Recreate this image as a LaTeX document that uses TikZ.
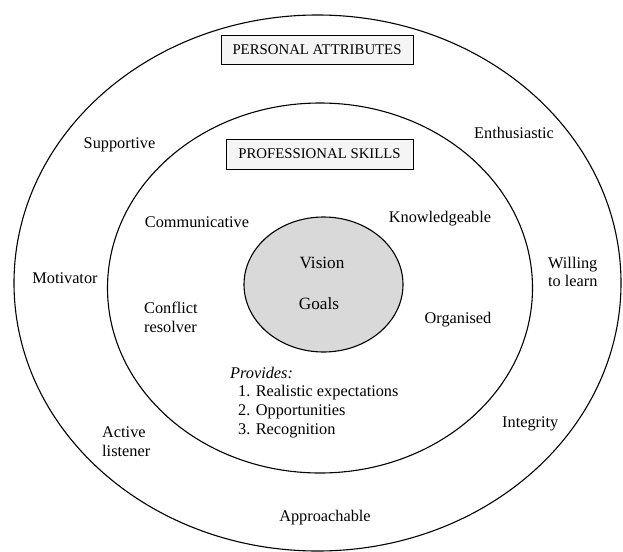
\documentclass[tikz,border=0pt]{standalone}
\usepackage{fontspec}
\setmainfont{Liberation Serif}
\usetikzlibrary{shapes.geometric}
\begin{document}
\begin{tikzpicture}[x=1pt,y=-1pt,
  ring/.style={draw=black, line width=1.1pt, ellipse, inner sep=0pt},
  lbl/.style={font=\fontsize{16.3}{19}\selectfont, inner sep=0pt, anchor=base},
  lbll/.style={lbl, anchor=base west},
  corelbl/.style={lbl, font=\fontsize{17.2}{20}\selectfont},
  titlebox/.style={draw=black, fill=gray!8, line width=0.8pt,
    font=\fontsize{14.8}{17}\selectfont, inner sep=0pt}
]
\useasboundingbox (0,0) rectangle (623,551);
% rings
\node[ring, minimum width=607pt, minimum height=536pt] (outer) at (317.5,283) {};
\node[ring, minimum width=425pt, minimum height=370pt] (inner) at (320,288) {};
\node[ring, fill=gray!30, minimum width=159pt, minimum height=135pt] (core) at (323.5,284.5) {};
% title boxes
\node[titlebox, minimum width=192pt, minimum height=29pt] (pa) at (317,49.5) {PERSONAL ATTRIBUTES};
\node[titlebox, minimum width=187pt, minimum height=30pt] (ps) at (319.5,154) {PROFESSIONAL SKILLS};
% personal attributes
\node[lbl] (sup) at (119.5,148.5) {Supportive};
\node[lbll] (ent) at (474,138.5) {Enthusiastic};
\node[lbl] (mot) at (65,283.5) {Motivator};
\node[lbll] (wil1) at (548,268.5) {Willing};
\node[lbll] (wil2) at (548,286.5) {to learn};
\node[lbll] (int) at (502,427.5) {Integrity};
\node[lbll] (act1) at (102,437.5) {Active};
\node[lbll] (act2) at (102,456.5) {listener};
\node[lbl] (app) at (325,521.5) {Approachable};
% professional skills
\node[lbl] (com) at (197,227.5) {Communicative};
\node[lbl] (kno) at (440,222.5) {Knowledgeable};
\node[lbll] (con1) at (144,313.5) {Conflict};
\node[lbll] (con2) at (144,332.5) {resolver};
\node[lbl] (org) at (458,323.5) {Organised};
\node[lbll] (pro) at (230,378.5) {\itshape Provides:};
\node[lbll] (p1) at (238,396.5) {1. Realistic expectations};
\node[lbll] (p2) at (238,415.5) {2. Opportunities};
\node[lbll] (p3) at (238,434.5) {3. Recognition};
% core
\node[corelbl] (vis) at (322,268) {Vision};
\node[corelbl] (goa) at (319,309) {Goals};
\end{tikzpicture}
\end{document}
